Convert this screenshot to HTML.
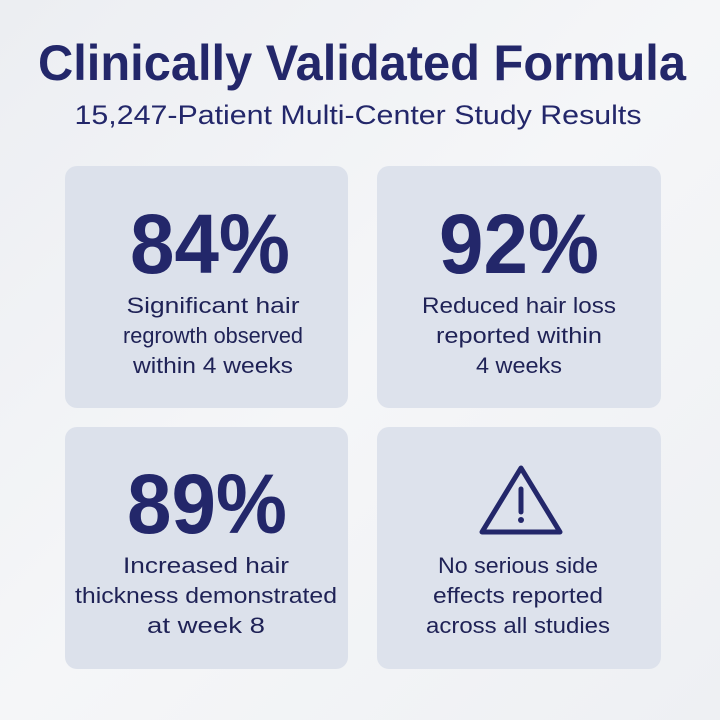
<!DOCTYPE html>
<html><head><style>
html,body{margin:0;padding:0;background:#f2f3f6;}
svg{display:block}
text{font-family:"Liberation Sans",sans-serif;fill:#23276a;text-anchor:middle}
.b{font-weight:bold}
.t{fill:#1f2256;font-size:22px}
</style></head><body>
<svg width="720" height="720" viewBox="0 0 720 720">
<defs><linearGradient id="bg" x1="0" y1="0" x2="1" y2="1"><stop offset="0" stop-color="#eceef2"/><stop offset="0.5" stop-color="#f5f6f8"/><stop offset="1" stop-color="#eef0f3"/></linearGradient></defs>
<rect width="720" height="720" fill="url(#bg)"/>
<text x="362" y="80" class="b" font-size="50" textLength="648" lengthAdjust="spacingAndGlyphs">Clinically Validated Formula</text>
<text x="358" y="124" font-size="27" textLength="567" lengthAdjust="spacingAndGlyphs">15,247-Patient Multi-Center Study Results</text>
<rect x="65" y="166" width="283" height="242" rx="12" fill="#dce1eb"/>
<rect x="377" y="166" width="284" height="242" rx="12" fill="#dde2ec"/>
<rect x="65" y="427" width="283" height="242" rx="12" fill="#dce1eb"/>
<rect x="377" y="427" width="284" height="242" rx="12" fill="#dde2ec"/>
<text x="210" y="273" class="b" font-size="84" textLength="160" lengthAdjust="spacingAndGlyphs">84%</text>
<text x="213" y="313" class="t" textLength="173" lengthAdjust="spacingAndGlyphs">Significant hair</text>
<text x="213" y="343" class="t" textLength="180" lengthAdjust="spacingAndGlyphs">regrowth observed</text>
<text x="213" y="373" class="t" textLength="160" lengthAdjust="spacingAndGlyphs">within 4 weeks</text>
<text x="519" y="273" class="b" font-size="84" textLength="160" lengthAdjust="spacingAndGlyphs">92%</text>
<text x="519" y="313" class="t" textLength="194" lengthAdjust="spacingAndGlyphs">Reduced hair loss</text>
<text x="519" y="343" class="t" textLength="166" lengthAdjust="spacingAndGlyphs">reported within</text>
<text x="519" y="373" class="t" textLength="86" lengthAdjust="spacingAndGlyphs">4 weeks</text>
<text x="207" y="533" class="b" font-size="84" textLength="160" lengthAdjust="spacingAndGlyphs">89%</text>
<text x="206" y="573" class="t" textLength="166" lengthAdjust="spacingAndGlyphs">Increased hair</text>
<text x="206" y="603" class="t" textLength="262" lengthAdjust="spacingAndGlyphs">thickness demonstrated</text>
<text x="206" y="633" class="t" textLength="118" lengthAdjust="spacingAndGlyphs">at week 8</text>
<path d="M521,468 L560,532 L482,532 Z" fill="none" stroke="#23276a" stroke-width="5" stroke-linejoin="round"/>
<path d="M521,489 L521,512" stroke="#23276a" stroke-width="5" stroke-linecap="round"/>
<circle cx="521" cy="520" r="3" fill="#23276a"/>
<text x="518" y="573" class="t" textLength="160" lengthAdjust="spacingAndGlyphs">No serious side</text>
<text x="518" y="603" class="t" textLength="170" lengthAdjust="spacingAndGlyphs">effects reported</text>
<text x="518" y="633" class="t" textLength="184" lengthAdjust="spacingAndGlyphs">across all studies</text>
</svg>
</body></html>
